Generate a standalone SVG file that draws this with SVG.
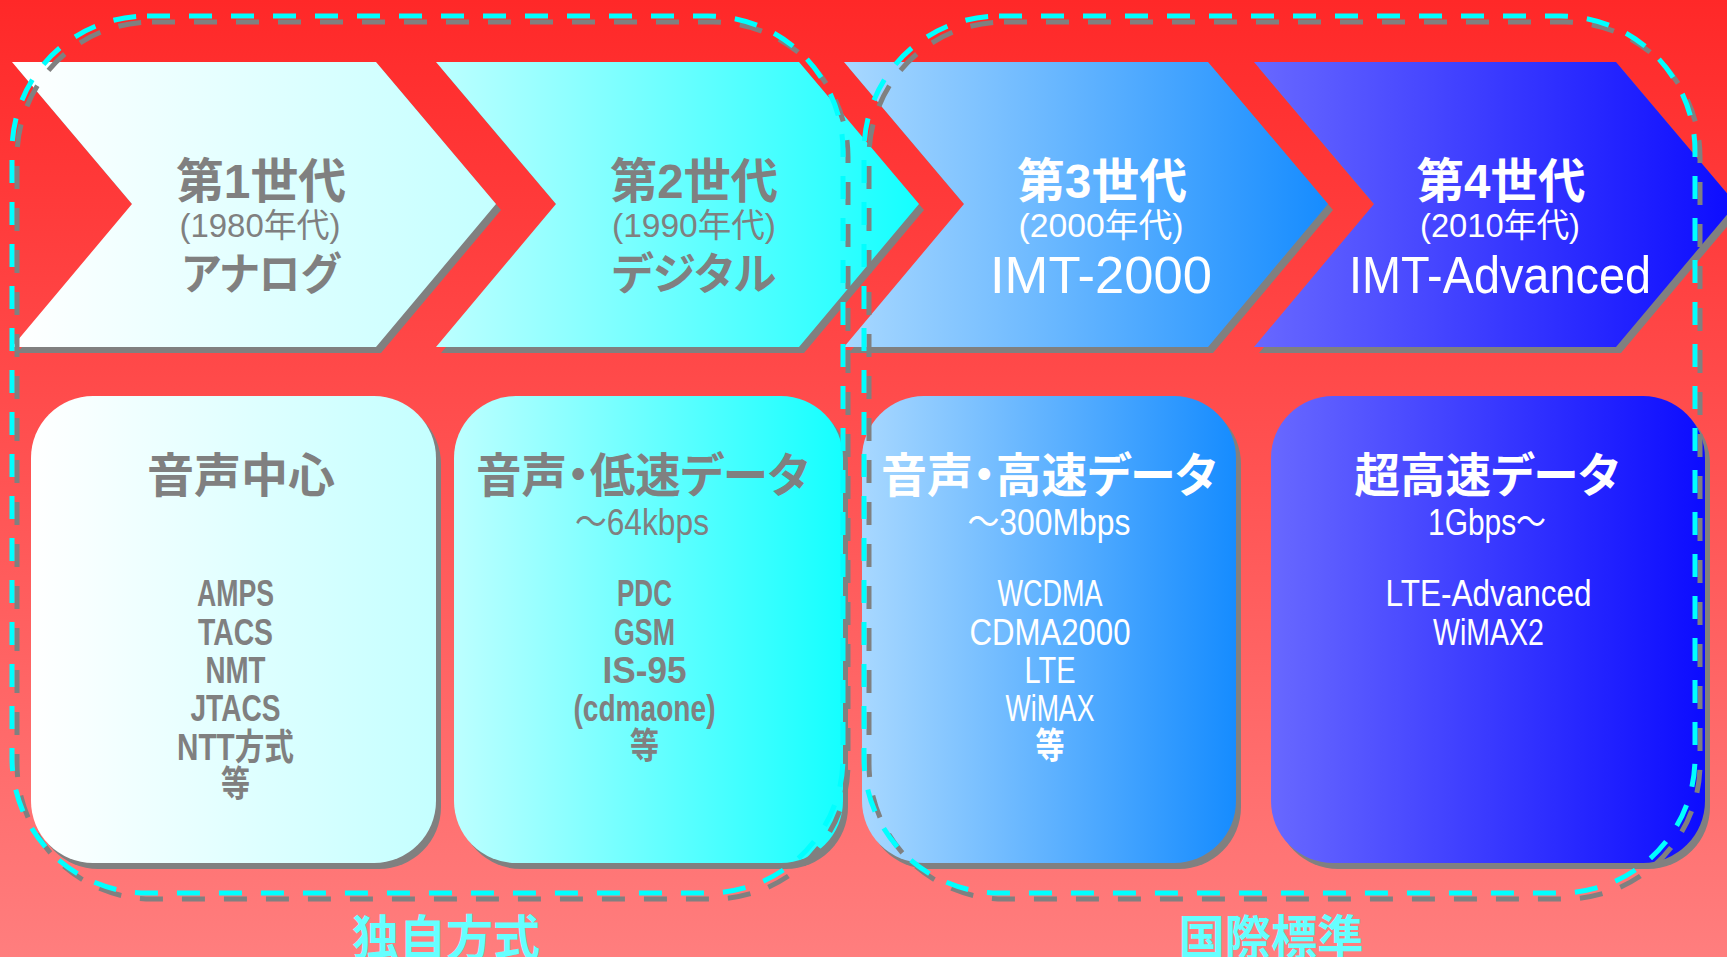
<svg xmlns="http://www.w3.org/2000/svg" width="1727" height="957" viewBox="0 0 1727 957">
<defs>
<linearGradient id="bg" x1="0" y1="0" x2="0" y2="1">
<stop offset="0" stop-color="#ff2828"/>
<stop offset="1" stop-color="#ff7e7e"/>
</linearGradient>
<linearGradient id="g1" x1="0" y1="0" x2="1" y2="0">
<stop offset="0" stop-color="#ffffff"/>
<stop offset="1" stop-color="#c4ffff"/>
</linearGradient>
<linearGradient id="g2" x1="0" y1="0" x2="1" y2="0">
<stop offset="0" stop-color="#bdffff"/>
<stop offset="1" stop-color="#14ffff"/>
</linearGradient>
<linearGradient id="g3" x1="0" y1="0" x2="1" y2="0">
<stop offset="0" stop-color="#a8d8ff"/>
<stop offset="1" stop-color="#168cff"/>
</linearGradient>
<linearGradient id="g4" x1="0" y1="0" x2="1" y2="0">
<stop offset="0" stop-color="#6868ff"/>
<stop offset="1" stop-color="#0c0cff"/>
</linearGradient>
</defs>
<style>
.sh{fill:#808080}
.t{font-family:"Liberation Sans","Noto Sans CJK JP",sans-serif;text-anchor:middle;font-feature-settings:"palt"}
.j{font-family:"Noto Sans CJK JP","Liberation Sans",sans-serif}
.b{font-weight:700}
.m{font-weight:400}
.gy{fill:#808080}
.wh{fill:#ffffff}
.h1{font-size:48px}
.h2{font-size:33px}
.h3{font-size:44px}
.hd{font-size:47px}
.ls{font-size:36px}
.dsh{fill:none;stroke-width:5;stroke-dasharray:23 19}
.lab{fill:#66ffff;font-size:48px}
</style>
<rect width="1727" height="957" fill="url(#bg)"/>

<g id="gen1">
<polygon class="sh" transform="translate(5,6)" points="12,62 376,62 496,204 376,347 12,347 132,204"/>
<polygon fill="url(#g1)" points="12,62 376,62 496,204 376,347 12,347 132,204"/>
<text class="t b h1 gy" x="261" y="198" textLength="170" lengthAdjust="spacingAndGlyphs">第1世代</text>
<text class="t m h2 gy" x="260" y="237" textLength="161" lengthAdjust="spacingAndGlyphs">(1980年代)</text>
<text class="t j b h3 gy" x="261" y="290" textLength="158" lengthAdjust="spacingAndGlyphs">アナログ</text>
</g>

<g id="gen2">
<polygon class="sh" transform="translate(5,6)" points="436,62 799,62 919,204 799,347 436,347 556,204"/>
<polygon fill="url(#g2)" points="436,62 799,62 919,204 799,347 436,347 556,204"/>
<text class="t b h1 gy" x="694" y="198" textLength="168" lengthAdjust="spacingAndGlyphs">第2世代</text>
<text class="t m h2 gy" x="694" y="237" textLength="164" lengthAdjust="spacingAndGlyphs">(1990年代)</text>
<text class="t j b h3 gy" x="694" y="290" textLength="164" lengthAdjust="spacingAndGlyphs">デジタル</text>
</g>

<g id="gen3">
<polygon class="sh" transform="translate(5,6)" points="844,62 1208,62 1328,204 1208,347 844,347 964,204"/>
<polygon fill="url(#g3)" points="844,62 1208,62 1328,204 1208,347 844,347 964,204"/>
<text class="t b h1 wh" x="1102" y="198" textLength="170" lengthAdjust="spacingAndGlyphs">第3世代</text>
<text class="t m h2 wh" x="1101" y="237" textLength="165" lengthAdjust="spacingAndGlyphs">(2000年代)</text>
<text class="t m wh" style="font-size:52px" x="1101" y="293" textLength="222" lengthAdjust="spacingAndGlyphs">IMT-2000</text>
</g>

<g id="gen4">
<polygon class="sh" transform="translate(5,6)" points="1254,62 1616,62 1736,204 1616,347 1254,347 1374,204"/>
<polygon fill="url(#g4)" points="1254,62 1616,62 1736,204 1616,347 1254,347 1374,204"/>
<text class="t b h1 wh" x="1501" y="198" textLength="169" lengthAdjust="spacingAndGlyphs">第4世代</text>
<text class="t m h2 wh" x="1500" y="237" textLength="160" lengthAdjust="spacingAndGlyphs">(2010年代)</text>
<text class="t m wh" style="font-size:52px" x="1500" y="293" textLength="302" lengthAdjust="spacingAndGlyphs">IMT-Advanced</text>
</g>

<g id="card1">
<rect class="sh" x="36" y="402" width="405" height="467" rx="62"/>
<rect fill="url(#g1)" x="31" y="396" width="405" height="467" rx="62"/>
<text class="t j b hd gy" x="241" y="492" textLength="188" lengthAdjust="spacingAndGlyphs">音声中心</text>
<text class="t b ls gy" x="235.5" y="606" textLength="77" lengthAdjust="spacingAndGlyphs">AMPS</text>
<text class="t b ls gy" x="235.5" y="645" textLength="75" lengthAdjust="spacingAndGlyphs">TACS</text>
<text class="t b ls gy" x="235.5" y="683" textLength="60" lengthAdjust="spacingAndGlyphs">NMT</text>
<text class="t b ls gy" x="235.5" y="721" textLength="90" lengthAdjust="spacingAndGlyphs">JTACS</text>
<text class="t b ls gy" x="235.5" y="760" textLength="117" lengthAdjust="spacingAndGlyphs">NTT方式</text>
<text class="t b ls gy" x="235.5" y="797" textLength="29" lengthAdjust="spacingAndGlyphs">等</text>
</g>

<g id="card2">
<rect class="sh" x="459" y="402" width="389" height="467" rx="62"/>
<rect fill="url(#g2)" x="454" y="396" width="389" height="467" rx="62"/>
<text class="t j b hd gy" x="642.5" y="492" textLength="333" lengthAdjust="spacingAndGlyphs">音声・低速データ</text>
<text class="t m ls gy" x="642" y="535" textLength="134" lengthAdjust="spacingAndGlyphs">～64kbps</text>
<text class="t b ls gy" x="644.5" y="606" textLength="55" lengthAdjust="spacingAndGlyphs">PDC</text>
<text class="t b ls gy" x="644.5" y="645" textLength="61" lengthAdjust="spacingAndGlyphs">GSM</text>
<text class="t b ls gy" x="644.5" y="683" textLength="84" lengthAdjust="spacingAndGlyphs">IS-95</text>
<text class="t b ls gy" x="644.5" y="721" textLength="142" lengthAdjust="spacingAndGlyphs">(cdmaone)</text>
<text class="t b ls gy" x="644.5" y="759" textLength="29" lengthAdjust="spacingAndGlyphs">等</text>
</g>

<g id="card3">
<rect class="sh" x="867" y="402" width="374" height="467" rx="62"/>
<rect fill="url(#g3)" x="862" y="396" width="374" height="467" rx="62"/>
<text class="t j b hd wh" x="1049" y="492" textLength="336" lengthAdjust="spacingAndGlyphs">音声・高速データ</text>
<text class="t m ls wh" x="1049" y="535" textLength="163" lengthAdjust="spacingAndGlyphs">～300Mbps</text>
<text class="t m ls wh" x="1050" y="606" textLength="105" lengthAdjust="spacingAndGlyphs">WCDMA</text>
<text class="t m ls wh" x="1050" y="645" textLength="161" lengthAdjust="spacingAndGlyphs">CDMA2000</text>
<text class="t m ls wh" x="1050" y="683" textLength="51" lengthAdjust="spacingAndGlyphs">LTE</text>
<text class="t m ls wh" x="1050" y="721" textLength="89" lengthAdjust="spacingAndGlyphs">WiMAX</text>
<text class="t b ls wh" x="1050" y="759" textLength="29" lengthAdjust="spacingAndGlyphs">等</text>
</g>

<g id="card4">
<rect class="sh" x="1276" y="402" width="434" height="467" rx="62"/>
<rect fill="url(#g4)" x="1271" y="396" width="434" height="467" rx="62"/>
<text class="t j b hd wh" x="1487" y="492" textLength="265" lengthAdjust="spacingAndGlyphs">超高速データ</text>
<text class="t m ls wh" x="1487" y="535" textLength="118" lengthAdjust="spacingAndGlyphs">1Gbps～</text>
<text class="t m ls wh" x="1488.5" y="606" textLength="206" lengthAdjust="spacingAndGlyphs">LTE-Advanced</text>
<text class="t m ls wh" x="1488.5" y="645" textLength="111" lengthAdjust="spacingAndGlyphs">WiMAX2</text>
</g>

<g id="connectors"></g>

<g id="group-proprietary">
<rect class="dsh" stroke="#808080" x="17" y="22" width="831" height="877" rx="135"/>
<rect class="dsh" stroke="#00ffff" x="12" y="16" width="831" height="877" rx="135"/>
<text class="t j b lab" x="446" y="955" textLength="188" lengthAdjust="spacingAndGlyphs">独自方式</text>
</g>

<g id="group-international">
<rect class="dsh" stroke="#808080" x="869" y="22" width="831" height="877" rx="135"/>
<rect class="dsh" stroke="#00ffff" x="864" y="16" width="831" height="877" rx="135"/>
<text class="t j b lab" x="1271" y="955" textLength="185" lengthAdjust="spacingAndGlyphs">国際標準</text>
</g>
</svg>
